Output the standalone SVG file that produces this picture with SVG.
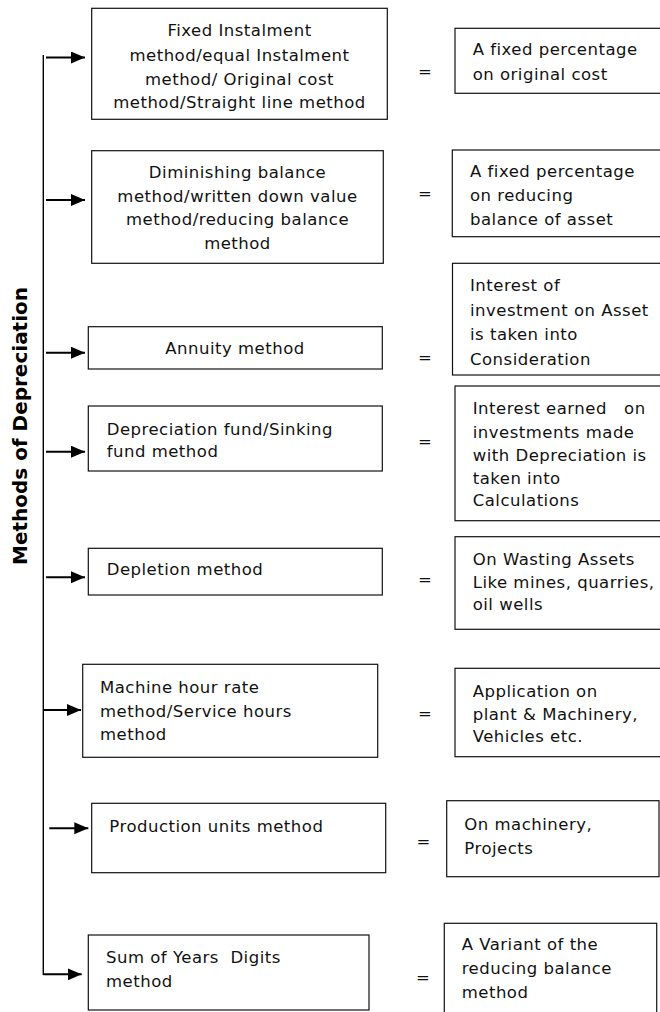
<svg xmlns="http://www.w3.org/2000/svg" width="660" height="1012" viewBox="0 0 660 1012">
<defs>
<marker id="ah" markerUnits="userSpaceOnUse" markerWidth="15" markerHeight="13" refX="14" refY="6" orient="auto">
<path d="M0,0 L14,6 L0,12 z" fill="#000"/>
</marker>
</defs>
<style>
rect{fill:#fff;stroke:#111;stroke-width:1.2}
text{font-family:"DejaVu Sans","Liberation Sans",sans-serif;font-size:16.5px;letter-spacing:0.5px;fill:#111}
.c{text-anchor:middle}
.eq{text-anchor:middle;letter-spacing:0}
.title{font-weight:bold;font-size:19px;letter-spacing:0;fill:#000}
.arr{stroke:#000;stroke-width:2;fill:none;marker-end:url(#ah)}
.trunk{stroke:#000;stroke-width:1.4;fill:none}
</style>
<rect x="0" y="0" width="660" height="1012" style="fill:#fff;stroke:none"/>
<g id="title">
<text class="title" transform="translate(27,426) rotate(-90)" text-anchor="middle" textLength="278" lengthAdjust="spacingAndGlyphs">Methods of Depreciation</text>
</g>
<g id="connectors">
<line class="trunk" x1="43.3" y1="55" x2="43.3" y2="975"/>
<line class="arr" x1="46" y1="57.5" x2="85" y2="57.5"/>
<line class="arr" x1="46" y1="200" x2="85" y2="200"/>
<line class="arr" x1="46" y1="352.7" x2="85" y2="352.7"/>
<line class="arr" x1="46" y1="451.7" x2="85" y2="451.7"/>
<line class="arr" x1="46" y1="577.3" x2="85" y2="577.3"/>
<line class="arr" x1="43.3" y1="710" x2="81" y2="710"/>
<line class="arr" x1="49.3" y1="828.3" x2="88.3" y2="828.3"/>
<line class="arr" x1="43.3" y1="974.3" x2="81.7" y2="974.3"/>
</g>
<g id="m1">
<rect x="91.7" y="8.3" width="295.6" height="111"/>
<text class="c" x="239.5" y="36">Fixed Instalment</text>
<text class="c" x="239.5" y="60.5">method/equal Instalment</text>
<text class="c" x="239.5" y="84.5">method/ Original cost</text>
<text class="c" x="239.5" y="108">method/Straight line method</text>
</g>
<g id="d1">
<text class="eq" x="425" y="77">=</text>
<rect x="455" y="28.3" width="215" height="65"/>
<text x="472.7" y="55">A fixed percentage</text>
<text x="472.7" y="79.5">on original cost</text>
</g>
<g id="m2">
<rect x="91.7" y="150.7" width="291.6" height="112.6"/>
<text class="c" x="237.5" y="178">Diminishing balance</text>
<text class="c" x="237.5" y="201.5">method/written down value</text>
<text class="c" x="237.5" y="225">method/reducing balance</text>
<text class="c" x="237.5" y="248.5">method</text>
</g>
<g id="d2">
<text class="eq" x="425" y="199">=</text>
<rect x="452.3" y="150" width="215" height="86.7"/>
<text x="470" y="177">A fixed percentage</text>
<text x="470" y="201">on reducing</text>
<text x="470" y="225">balance of asset</text>
</g>
<g id="m3">
<rect x="88.3" y="326.7" width="294" height="42.3"/>
<text class="c" x="235" y="354">Annuity method</text>
</g>
<g id="d3">
<text class="eq" x="425" y="363">=</text>
<rect x="452.5" y="263.3" width="215" height="111.7"/>
<text x="470" y="291">Interest of</text>
<text x="470" y="315.5">investment on Asset</text>
<text x="470" y="340">is taken into</text>
<text x="470" y="364.5">Consideration</text>
</g>
<g id="m4">
<rect x="88.3" y="406" width="294" height="65"/>
<text x="106.7" y="435">Depreciation fund/Sinking</text>
<text x="106.7" y="457">fund method</text>
</g>
<g id="d4">
<text class="eq" x="425" y="446.7">=</text>
<rect x="455" y="386" width="215" height="134.7"/>
<text x="472.7" y="414" xml:space="preserve">Interest earned   on</text>
<text x="472.7" y="437.5">investments made</text>
<text x="472.7" y="461">with Depreciation is</text>
<text x="472.7" y="484">taken into</text>
<text x="472.7" y="506">Calculations</text>
</g>
<g id="m5">
<rect x="88.3" y="548.3" width="294" height="46.7"/>
<text x="106.7" y="575">Depletion method</text>
</g>
<g id="d5">
<text class="eq" x="425" y="585">=</text>
<rect x="455" y="536.7" width="215" height="92.6"/>
<text x="472.7" y="565">On Wasting Assets</text>
<text x="472.7" y="587.5">Like mines, quarries,</text>
<text x="472.7" y="610">oil wells</text>
</g>
<g id="m6">
<rect x="82.7" y="664.3" width="295" height="93"/>
<text x="100" y="693.3">Machine hour rate</text>
<text x="100" y="716.7">method/Service hours</text>
<text x="100" y="740">method</text>
</g>
<g id="d6">
<text class="eq" x="425" y="719">=</text>
<rect x="455" y="668.3" width="215" height="88.4"/>
<text x="472.7" y="697">Application on</text>
<text x="472.7" y="720">plant &amp; Machinery,</text>
<text x="472.7" y="742">Vehicles etc.</text>
</g>
<g id="m7">
<rect x="91.7" y="803.3" width="294" height="69.4"/>
<text x="109.3" y="831.7">Production units method</text>
</g>
<g id="d7">
<text class="eq" x="423.3" y="846.7">=</text>
<rect x="446.7" y="800.7" width="212.3" height="76"/>
<text x="464.3" y="830">On machinery,</text>
<text x="464.3" y="853.5">Projects</text>
</g>
<g id="m8">
<rect x="88.3" y="935" width="280.7" height="75"/>
<text x="106" y="963.3" xml:space="preserve">Sum of Years  Digits</text>
<text x="106" y="986.7">method</text>
</g>
<g id="d8">
<text class="eq" x="423" y="983.3">=</text>
<rect x="444.3" y="923.3" width="212.4" height="95"/>
<text x="461.7" y="950">A Variant of the</text>
<text x="461.7" y="973.5">reducing balance</text>
<text x="461.7" y="998">method</text>
</g>
</svg>
